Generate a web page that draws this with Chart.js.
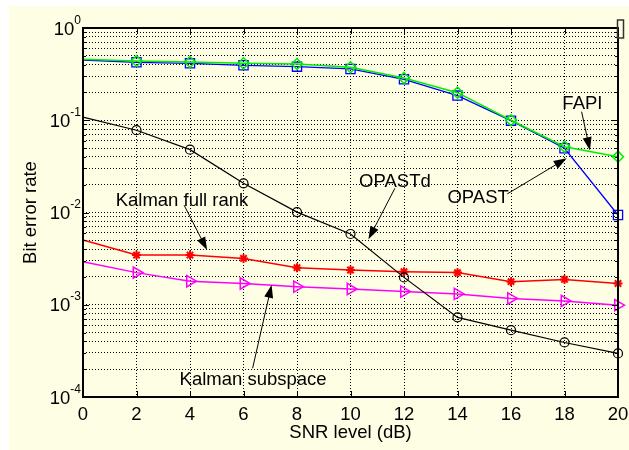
<!DOCTYPE html>
<html>
<head>
<meta charset="utf-8">
<script src="https://cdn.jsdelivr.net/npm/chart.js@4.4.0/dist/chart.umd.min.js"></script>
<style>
  html, body { margin: 0; padding: 0; background: #fff; overflow: hidden; }
  #wrap { width: 629px; height: 450px; position: relative; }
</style>
</head>
<body>
<div id="wrap"><canvas id="berChart"></canvas></div>
<script>
// SNR (dB) on x, bit error rate on y
const snr = [0, 2, 4, 6, 8, 10, 12, 14, 16, 18, 20];
const berOpastd = [0.108, 0.078, 0.048, 0.0207, 0.0101, 0.00585, 0.00198, 0.00073, 0.00053, 0.00039, 0.000297];
const berKalmanFull = [0.00503, 0.00346, 0.00346, 0.00318, 0.00252, 0.00238, 0.00228, 0.00223, 0.00178, 0.00188, 0.0017];
const berKalmanSub = [0.00293, 0.00223, 0.0018, 0.0017, 0.00157, 0.00148, 0.00139, 0.00131, 0.00117, 0.0011, 0.00099];
const berOpast = [0.45, 0.425, 0.414, 0.394, 0.381, 0.36, 0.278, 0.185, 0.099, 0.0497, 0.0094];
const berFapi = [0.457, 0.439, 0.428, 0.414, 0.407, 0.375, 0.287, 0.199, 0.1, 0.0517, 0.0403];

const xTicks = [0, 2, 4, 6, 8, 10, 12, 14, 16, 18, 20];
const yDecades = [1e-4, 1e-3, 1e-2, 1e-1, 1];
const yExponents = ['-4', '-3', '-2', '-1', '0'];

// callouts, in data coordinates (text centre/baseline, arrow start, arrow tip)
const callouts = [
  { text: 'Kalman full rank', tx: 3.70, ty: 0.01176, x0: 3.78, y0: 0.0120, x1: 4.64, y1: 0.00392 },
  { text: 'OPASTd', tx: 11.66, ty: 0.01876, x0: 11.66, y0: 0.0183, x1: 10.67, y1: 0.00512 },
  { text: 'OPAST', tx: 14.77, ty: 0.01277, x0: 15.86, y0: 0.0159, x1: 18.08, y1: 0.0387 },
  { text: 'FAPI', tx: 18.67, ty: 0.1315, x0: 18.64, y0: 0.1238, x1: 18.95, y1: 0.0473 },
  { text: 'Kalman subspace', tx: 6.36, ty: 0.0001349, x0: 6.34, y0: 0.000205, x1: 7.05, y1: 0.00164 }
];

const FONT = '"Liberation Sans", Arial, Helvetica, sans-serif';
const FS = 18.5;

// all grid values: decades plus 2..9 in between
const yGridVals = [];
yDecades.forEach((d, i) => {
  yGridVals.push(d);
  if (i < yDecades.length - 1) {
    for (let m = 2; m <= 9; m++) yGridVals.push(d * m);
  }
});

function pts(vals) {
  return snr.map((s, i) => ({ x: s, y: vals[i] }));
}
const noFirst = r => ctx => ctx.dataIndex === 0 ? 0 : r;

function drawArrow(ctx, x0, y0, x1, y1) {
  const ang = Math.atan2(y1 - y0, x1 - x0);
  const len = 13, hw = 4.5;
  ctx.beginPath();
  ctx.moveTo(x0, y0);
  ctx.lineTo(x1 - Math.cos(ang) * len * 0.8, y1 - Math.sin(ang) * len * 0.8);
  ctx.stroke();
  ctx.beginPath();
  ctx.moveTo(x1, y1);
  ctx.lineTo(x1 - Math.cos(ang) * len - Math.sin(ang) * hw, y1 - Math.sin(ang) * len + Math.cos(ang) * hw);
  ctx.lineTo(x1 - Math.cos(ang) * len + Math.sin(ang) * hw, y1 - Math.sin(ang) * len - Math.cos(ang) * hw);
  ctx.closePath();
  ctx.fill();
}

const matlabLook = {
  id: 'matlabLook',
  beforeDraw(chart) {
    const ctx = chart.ctx;
    ctx.save();
    ctx.fillStyle = '#fefee4';
    ctx.fillRect(9, 6, chart.width - 9, chart.height - 6);
    ctx.restore();
  },
  afterDraw(chart) {
    const { ctx, chartArea: a, scales: { x, y } } = chart;
    ctx.save();
    ctx.strokeStyle = '#000';
    ctx.fillStyle = '#000';

    // inside tick marks
    ctx.lineWidth = 1;
    ctx.beginPath();
    yGridVals.forEach(v => {
      const py = Math.round(y.getPixelForValue(v)) + 0.5;
      const len = yDecades.includes(v) ? 6 : 3;
      ctx.moveTo(a.left, py); ctx.lineTo(a.left + len, py);
      ctx.moveTo(a.right, py); ctx.lineTo(a.right - len, py);
    });
    xTicks.forEach(v => {
      const px = Math.round(x.getPixelForValue(v)) + 0.5;
      ctx.moveTo(px, a.bottom); ctx.lineTo(px, a.bottom - 6);
      ctx.moveTo(px, a.top); ctx.lineTo(px, a.top + 6);
    });
    ctx.stroke();

    // box
    ctx.lineWidth = 2;
    ctx.strokeRect(a.left, a.top, a.right - a.left, a.bottom - a.top);

    // x tick labels
    ctx.font = FS + 'px ' + FONT;
    ctx.textAlign = 'center';
    ctx.textBaseline = 'alphabetic';
    xTicks.forEach(v => {
      ctx.fillText(String(v), x.getPixelForValue(v), a.bottom + 23);
    });

    // y tick labels 10^n
    yDecades.forEach((d, i) => {
      const py = y.getPixelForValue(d);
      ctx.font = '12px ' + FONT;
      const supW = ctx.measureText(yExponents[i]).width;
      ctx.font = FS + 'px ' + FONT;
      const baseW = ctx.measureText('10').width;
      const right = a.left - 2;
      ctx.textAlign = 'left';
      ctx.fillText('10', right - supW - baseW, py + 6.5);
      ctx.font = '12px ' + FONT;
      ctx.fillText(yExponents[i], right - supW, py - 4.5);
    });

    // axis titles
    ctx.font = FS + 'px ' + FONT;
    ctx.textAlign = 'center';
    ctx.fillText('SNR level (dB)', (a.left + a.right) / 2, a.bottom + 41);
    ctx.save();
    ctx.translate(35.5, (a.top + a.bottom) / 2);
    ctx.rotate(-Math.PI / 2);
    ctx.fillText('Bit error rate', 0, 0);
    ctx.restore();

    // callouts
    ctx.lineWidth = 1;
    callouts.forEach(c => {
      ctx.fillText(c.text, x.getPixelForValue(c.tx), y.getPixelForValue(c.ty));
      drawArrow(ctx, x.getPixelForValue(c.x0), y.getPixelForValue(c.y0),
                x.getPixelForValue(c.x1), y.getPixelForValue(c.y1));
    });

    // leftover legend stub at top right corner
    ctx.lineWidth = 1.5;
    ctx.strokeStyle = '#333';
    ctx.strokeRect(a.right - 0.5, a.top - 8, 6, 18);
    ctx.restore();
  }
};

new Chart(document.getElementById('berChart'), {
  type: 'line',
  data: {
    datasets: [
      {
        label: 'FAPI', data: pts(berFapi),
        borderColor: '#00ee00', borderWidth: 1.5,
        pointStyle: 'rectRot', pointRadius: noFirst(5.5), pointBorderWidth: 1.5,
        pointBorderColor: '#00ee00', pointBackgroundColor: 'rgba(0,0,0,0)'
      },
      {
        label: 'OPAST', data: pts(berOpast),
        borderColor: '#0000ff', borderWidth: 1.3,
        pointStyle: 'rect', pointRadius: noFirst(6.5), pointBorderWidth: 1.3,
        pointBorderColor: '#0000ff', pointBackgroundColor: 'rgba(0,0,0,0)'
      },
      {
        label: 'OPASTd', data: pts(berOpastd),
        borderColor: '#000000', borderWidth: 1.2,
        pointStyle: 'circle', pointRadius: noFirst(4.5), pointBorderWidth: 1.2,
        pointBorderColor: '#000000', pointBackgroundColor: 'rgba(0,0,0,0)'
      },
      {
        label: 'Kalman full rank', data: pts(berKalmanFull),
        borderColor: '#ff0000', borderWidth: 1.5,
        pointStyle: 'star', pointRadius: noFirst(4.5), pointBorderWidth: 2,
        pointBorderColor: '#ff0000', pointBackgroundColor: '#ff0000'
      },
      {
        label: 'Kalman subspace', data: pts(berKalmanSub),
        borderColor: '#ff00ff', borderWidth: 1.5,
        pointStyle: 'triangle', pointRotation: 90, pointRadius: noFirst(6.5), pointBorderWidth: 1.5,
        pointBorderColor: '#ff00ff', pointBackgroundColor: 'rgba(0,0,0,0)'
      }
    ]
  },
  options: {
    responsive: true,
    maintainAspectRatio: false,
    animation: false,
    clip: false,
    elements: { line: { tension: 0 } },
    layout: { padding: { left: 83, right: 11, top: 28, bottom: 23 } },
    plugins: { legend: { display: false }, tooltip: { enabled: false } },
    scales: {
      x: {
        type: 'linear', min: 0, max: 20,
        afterBuildTicks: s => { s.ticks = xTicks.map(v => ({ value: v })); },
        afterFit: s => { s.height = 30; },
        ticks: { display: false },
        grid: { color: '#000', lineWidth: 1, drawTicks: false },
        border: { display: false, dash: [1, 2] }
      },
      y: {
        type: 'logarithmic', min: 1e-4, max: 1,
        afterBuildTicks: s => { s.ticks = yGridVals.map(v => ({ value: v })); },
        afterFit: s => { s.width = 0; },
        ticks: { display: false },
        grid: { color: '#000', lineWidth: 1, drawTicks: false },
        border: { display: false, dash: [1, 2] }
      }
    }
  },
  plugins: [matlabLook]
});
</script>
</body>
</html>
